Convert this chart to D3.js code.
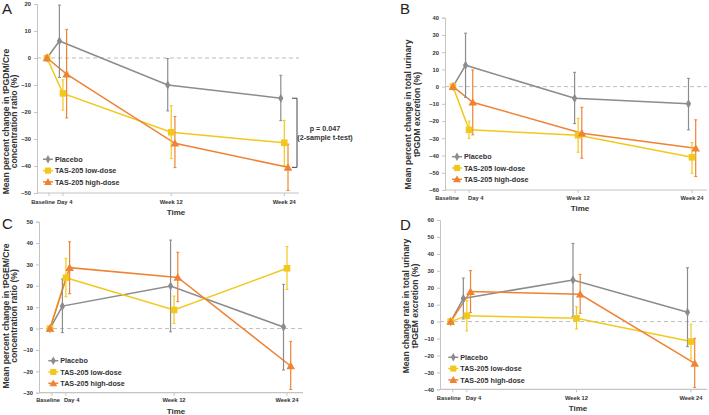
<!DOCTYPE html>
<html><head><meta charset="utf-8">
<script src="https://cdn.jsdelivr.net/npm/d3@7"></script>
<style>body{margin:0;background:#fff}svg{display:block;font-family:"Liberation Sans",Arial,sans-serif}</style>
</head><body><svg id="c" width="709" height="415"></svg>
<script>
// ---------- DATA ----------
const categories = ["Baseline", "Day 4", "Week 12", "Week 24"];
const categoryPos = [0, 1, 7.8, 14.9];
const seriesNames = ["Placebo", "TAS-205 low-dose", "TAS-205 high-dose"];

// Panel A: tPGDM/Cre
const aYTicks = [20, 10, 0, -10, -20, -30, -40, -50];
const aPlacebo = [0, 6.3, -10.0, -14.9], aPlaceboLo = [0, -7.2, -19.6, -23.2], aPlaceboHi = [0, 19.6, -0.2, -6.4];
const aLow = [0, -13.1, -27.5, -31.4], aLowLo = [0, -19.3, -37.3, -39.8], aLowHi = [0, -8.1, -17.7, -23.1];
const aHigh = [0, -6.0, -31.6, -40.5], aHighLo = [0, -22.2, -40.6, -49.1], aHighHi = [0, 10.6, -21.7, -31.9];

// Panel B: total urinary tPGDM
const bYTicks = [40, 30, 20, 10, 0, -10, -20, -30, -40, -50, -60];
const bPlacebo = [0, 12.4, -6.8, -10.0], bPlaceboLo = [0, -6.2, -21.5, -25.1], bPlaceboHi = [0, 31.0, 8.3, 4.8];
const bLow = [0, -25.1, -28.2, -41.0], bLowLo = [0, -30.0, -38.1, -50.3], bLowHi = [0, -20.0, -18.4, -32.5];
const bHigh = [0, -9.1, -27.0, -35.8], bHighLo = [0, -28.0, -41.6, -52.2], bHighHi = [0, 9.7, -12.0, -19.3];

// Panel C: tPGEM/Cre
const cYTicks = [50, 40, 30, 20, 10, 0, -10, -20, -30];
const cPlacebo = [0, 10.5, 19.9, 0.7], cPlaceboLo = [0, -1.9, -1.5, -19.4], cPlaceboHi = [0, 23.2, 41.4, 20.7];
const cLow = [0, 23.8, 8.7, 28.2], cLowLo = [0, 14.9, 2.4, 18.3], cLowHi = [0, 32.9, 15.2, 38.4];
const cHigh = [0, 28.5, 23.9, -17.5], cHighLo = [0, 16.3, 12.6, -28.5], cHighHi = [0, 40.6, 35.7, -6.0];

// Panel D: total urinary tPGEM
const dYTicks = [60, 50, 40, 30, 20, 10, 0, -10, -20, -30, -40];
const dPlacebo = [0, 13.7, 24.6, 5.5], dPlaceboLo = [0, 1.5, 2.9, -14.8], dPlaceboHi = [0, 25.7, 46.2, 31.8];
const dLow = [0, 3.5, 1.9, -11.8], dLowLo = [0, -5.5, -4.4, -22.0], dLowHi = [0, 12.5, 8.8, -1.6];
const dHigh = [0, 17.7, 16.1, -24.7], dHighLo = [0, 5.4, 4.9, -38.9], dHighHi = [0, 30.1, 27.9, -9.9];

const pValueText = ["p = 0.047", "(2-sample t-test)"];

// ---------- STYLE / LAYOUT ----------
const colors = ["#8c8c8c", "#f2c81e", "#ef8233"];
const dodge = [-3.5, 0, 3.7];
const panels = [
  {letter: "A", ticks: aYTicks, series: [[aPlacebo, aPlaceboLo, aPlaceboHi], [aLow, aLowLo, aLowHi], [aHigh, aHighLo, aHighHi]],
   title: ["Mean percent change in tPGDM/Cre", "concentration ratio (%)"],
   axisX: 37, endX: 299, x0: 47, x1: 284.3, yTop: 4, yBot: 193,
   titleX: 8.5, titleY: 121.5, letterXY: [2, 14], legend: [43, 159.3], timeXY: [176, 215], xlabY: 204, blExtra: 8, d4Shift: -6},
  {letter: "B", ticks: bYTicks, series: [[bPlacebo, bPlaceboLo, bPlaceboHi], [bLow, bLowLo, bLowHi], [bHigh, bHighLo, bHighHi]],
   title: ["Mean percent change in total urinary", "tPGDM excretion (%)"],
   axisX: 445, endX: 707, x0: 453, x1: 692, yTop: 17.7, yBot: 190,
   titleX: 411, titleY: 114.5, letterXY: [400, 14], legend: [452, 156.7], timeXY: [580, 211], xlabY: 199.5, blExtra: 6, d4Shift: -1},
  {letter: "C", ticks: cYTicks, series: [[cPlacebo, cPlaceboLo, cPlaceboHi], [cLow, cLowLo, cLowHi], [cHigh, cHighLo, cHighHi]],
   title: ["Mean percent change in tPGEM/Cre", "concentration ratio (%)"],
   axisX: 39, endX: 303, x0: 50, x1: 287, yTop: 221.7, yBot: 392.7,
   titleX: 8.5, titleY: 316, letterXY: [2, 229], legend: [48.3, 360.7], timeXY: [176, 414], xlabY: 401.5, blExtra: 10, d4Shift: -2},
  {letter: "D", ticks: dYTicks, series: [[dPlacebo, dPlaceboLo, dPlaceboHi], [dLow, dLowLo, dLowHi], [dHigh, dHighLo, dHighHi]],
   title: ["Mean change rate in total urinary", "tPGEM excretion (%)"],
   axisX: 440, endX: 707, x0: 450.7, x1: 691, yTop: 220, yBot: 389.3,
   titleX: 409, titleY: 306, letterXY: [400, 230], legend: [448.3, 357.3], timeXY: [578, 411], xlabY: 400, blExtra: 10, d4Shift: -1}
];

const svg = d3.select("#c");
const symbols = [d3.symbolDiamond, d3.symbolSquare, d3.symbolTriangle];
const symSizes = [24, 44, 32];

panels.forEach((p, pi) => {
  const g = svg.append("g");
  const x = d3.scaleLinear().domain([categoryPos[0], categoryPos[3]]).range([p.x0, p.x1]);
  const yDom = d3.extent(p.ticks);
  const y = d3.scaleLinear().domain(yDom).range([p.yBot, p.yTop]);

  // y axis
  const yAxis = d3.axisLeft(y).tickValues(p.ticks).tickSize(3).tickPadding(3);
  const ya = g.append("g").attr("transform", `translate(${p.axisX},0)`).call(yAxis);
  ya.select(".domain").attr("stroke", "#c4c4c4");
  ya.selectAll(".tick line").attr("stroke", "#c4c4c4");
  ya.selectAll(".tick text").attr("font-size", 5.8).attr("font-weight", "bold").attr("fill", "#333")
    .attr("font-family", "Liberation Sans, Arial, sans-serif");

  // x axis line
  g.append("line").attr("x1", p.axisX).attr("x2", p.endX).attr("y1", y(yDom[0])).attr("y2", y(yDom[0]))
    .attr("stroke", "#c4c4c4").attr("stroke-width", 1.2);
  categories.forEach((c, i) => {
    const tx = x(categoryPos[i]) + (i === 0 ? 2 : 0);
    g.append("line").attr("x1", tx).attr("x2", tx).attr("y1", y(yDom[0])).attr("y2", y(yDom[0]) + 3).attr("stroke", "#c4c4c4");
    let lx = x(categoryPos[i]), anchor = "middle";
    if (i === 0) { lx = x(categoryPos[0]) + p.blExtra; anchor = "end"; }
    if (i === 1) { lx = x(categoryPos[1]) + p.d4Shift; anchor = "start"; }
    g.append("text").attr("x", lx).attr("y", p.xlabY).attr("text-anchor", anchor)
      .attr("font-size", 5.8).attr("font-weight", "bold").attr("fill", "#333").text(c);
  });
  g.append("text").attr("x", p.timeXY[0]).attr("y", p.timeXY[1]).attr("text-anchor", "middle")
    .attr("font-size", 8).attr("font-weight", "bold").attr("fill", "#333").text("Time");

  // zero line
  g.append("line").attr("x1", p.axisX).attr("x2", p.endX).attr("y1", y(0)).attr("y2", y(0))
    .attr("stroke", "#bdbdbd").attr("stroke-width", 1).attr("stroke-dasharray", "4,3");

  // y title
  const tt = g.append("text").attr("transform", `translate(${p.titleX},${p.titleY}) rotate(-90)`)
    .attr("text-anchor", "middle").attr("font-size", 8.6).attr("font-weight", "bold").attr("fill", "#333");
  p.title.forEach((t, k) => tt.append("tspan").attr("x", 0).attr("y", k * 8.7).text(t));

  // letter
  g.append("text").attr("x", p.letterXY[0]).attr("y", p.letterXY[1]).attr("font-size", 15).attr("fill", "#222").text(p.letter);

  // series
  const px = (si, i) => x(categoryPos[i]) + (i === 0 ? 0 : dodge[si]);
  p.series.forEach((s, si) => {
    const [mean] = s;
    const line = d3.line().x((d, i) => px(si, i)).y(d => y(d));
    g.append("path").datum(mean).attr("d", line).attr("fill", "none").attr("stroke", colors[si]).attr("stroke-width", 1.5);
  });
  p.series.forEach((s, si) => {
    const [mean, lo, hi] = s;
    mean.forEach((m, i) => {
      if (i === 0) return;
      const xx = px(si, i);
      g.append("line").attr("x1", xx).attr("x2", xx).attr("y1", y(lo[i])).attr("y2", y(hi[i]))
        .attr("stroke", colors[si]).attr("stroke-width", 1.2);
      [lo[i], hi[i]].forEach(v => g.append("line").attr("x1", xx - 1.5).attr("x2", xx + 1.5)
        .attr("y1", y(v)).attr("y2", y(v)).attr("stroke", colors[si]).attr("stroke-width", 1));
    });
  });
  p.series.forEach((s, si) => {
    const [mean] = s;
    g.selectAll(null).data(mean).enter().append("path")
      .attr("d", d3.symbol().type(symbols[si]).size(symSizes[si]))
      .attr("transform", (d, i) => `translate(${px(si, i)},${y(d) + (si === 2 ? 0.8 : 0)})`)
      .attr("fill", colors[si]);
  });

  // legend
  seriesNames.forEach((n, si) => {
    const ly = p.legend[1] + si * 11.3;
    g.append("line").attr("x1", p.legend[0]).attr("x2", p.legend[0] + 10).attr("y1", ly).attr("y2", ly)
      .attr("stroke", colors[si]).attr("stroke-width", 1.5);
    g.append("path").attr("d", d3.symbol().type(symbols[si]).size(symSizes[si] * 0.85))
      .attr("transform", `translate(${p.legend[0] + 5},${ly + (si === 2 ? 0.7 : 0)})`).attr("fill", colors[si]);
    g.append("text").attr("x", p.legend[0] + 12).attr("y", ly + 2.6).attr("font-size", 7.2).attr("font-weight", "bold")
      .attr("fill", "#333").text(n);
  });

  // p-value bracket on panel A
  if (pi === 0) {
    const yT = y(p.series[0][0][3]), yB = y(p.series[2][0][3]);
    const bx = 297;
    g.append("path").attr("d", `M${bx - 5},${yT}H${bx}V${yB}H${bx - 5}`).attr("fill", "none")
      .attr("stroke", "#444").attr("stroke-width", 1);
    pValueText.forEach((t, k) => g.append("text").attr("x", 325).attr("y", 131 + k * 9).attr("text-anchor", "middle")
      .attr("font-size", 7.2).attr("font-weight", "bold").attr("fill", "#333").text(t));
  }
});
</script></body></html>
